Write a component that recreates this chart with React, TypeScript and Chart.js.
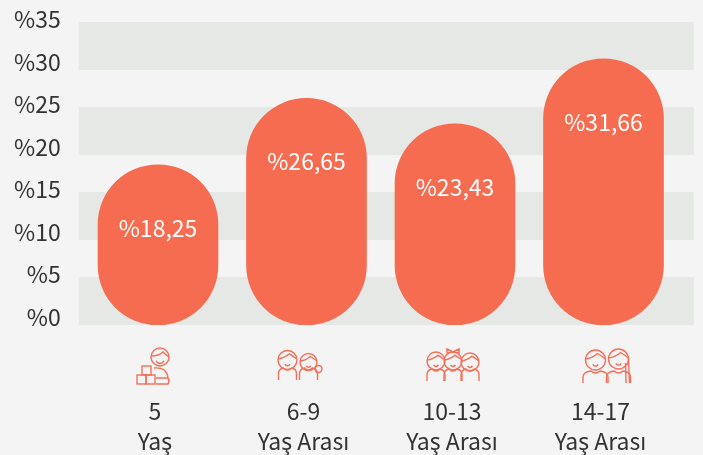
import React, { useEffect, useRef } from "react";
import { Chart, registerables } from "chart.js";

Chart.register(...registerables);

const categories = [["5", "Yaş"], ["6-9", "Yaş Arası"], ["10-13", "Yaş Arası"], ["14-17", "Yaş Arası"]];
const values = [18.25, 26.65, 23.43, 31.66];
const valueLabels = ["%18,25", "%26,65", "%23,43", "%31,66"];
const tickValues = [0, 5, 10, 15, 20, 25, 30, 35];
const bands = [[-0.94, 4.7], [9.06, 14.7], [19.06, 24.7], [29.06, 34.7]];

const FONT = '"Noto Sans CJK SC", "Noto Sans", sans-serif';
const TEXT = "#333333";
const CORAL = "#f56c50";
const ICON = "#f4705a";
const BG = "#f4f4f4";
const BAND = "#e6e8e6";
const ICON_SHIFT = [-5, -8, -2, 3];

type Ctx = CanvasRenderingContext2D;

function person(c: Ctx, x: number, y: number, r: number, bw: number, bottom: number) {
  c.beginPath();
  c.arc(x, y, r, 0, Math.PI * 2);
  c.stroke();
  c.beginPath();
  c.moveTo(x - r, y - 1);
  c.quadraticCurveTo(x - r * 0.3, y - r * 0.2, x + r * 0.2, y - r * 0.65);
  c.quadraticCurveTo(x + r * 0.6, y - r * 0.4, x + r, y - 1);
  c.stroke();
  c.beginPath();
  c.arc(x, y + r * 0.3, r * 0.3, 0.15 * Math.PI, 0.85 * Math.PI);
  c.stroke();
  c.beginPath();
  c.moveTo(x - bw, bottom);
  c.lineTo(x - bw, bottom - 6);
  c.quadraticCurveTo(x - bw, bottom - 11, x - r * 0.45, bottom - 12);
  c.quadraticCurveTo(x, bottom - 8, x + r * 0.45, bottom - 12);
  c.quadraticCurveTo(x + bw, bottom - 11, x + bw, bottom - 6);
  c.lineTo(x + bw, bottom);
  c.stroke();
}

const icons = [
  (c: Ctx, x: number, y: number) => {
    c.beginPath();
    c.arc(x + 7, y - 8, 9, 0, Math.PI * 2);
    c.stroke();
    c.beginPath();
    c.moveTo(x - 2, y - 9);
    c.quadraticCurveTo(x + 6, y - 9, x + 10, y - 13);
    c.quadraticCurveTo(x + 13, y - 10, x + 16, y - 8);
    c.moveTo(x + 3, y - 4);
    c.quadraticCurveTo(x + 7, y + 1, x + 11, y - 4);
    c.stroke();
    c.strokeRect(x - 16, y + 10, 9, 9);
    c.strokeRect(x - 7, y + 10, 9, 9);
    c.strokeRect(x - 11, y + 1, 9, 9);
    c.beginPath();
    c.moveTo(x + 1, y + 3);
    c.quadraticCurveTo(x + 14, y + 2, x + 15, y + 13);
    c.moveTo(x + 3, y + 19);
    c.lineTo(x + 15, y + 19);
    c.quadraticCurveTo(x + 17, y + 16, x + 15, y + 13);
    c.lineTo(x + 3, y + 13);
    c.stroke();
  },
  (c: Ctx, x: number, y: number) => {
    person(c, x - 11, y - 5, 9.5, 9, y + 15);
    person(c, x + 10, y - 3, 8.5, 9, y + 15);
    c.beginPath();
    c.arc(x + 20, y + 4, 3.5, 0, Math.PI * 2);
    c.stroke();
  },
  (c: Ctx, x: number, y: number) => {
    person(c, x - 17, y - 4, 9, 9, y + 16);
    person(c, x + 17, y - 3, 9, 9, y + 16);
    person(c, x, y - 4, 9, 9, y + 16);
    c.beginPath();
    c.moveTo(x, y - 13);
    c.lineTo(x - 6, y - 16);
    c.lineTo(x - 6, y - 12);
    c.closePath();
    c.moveTo(x, y - 13);
    c.lineTo(x + 6, y - 16);
    c.lineTo(x + 6, y - 12);
    c.closePath();
    c.stroke();
  },
  (c: Ctx, x: number, y: number) => {
    person(c, x - 11, y - 5, 10, 12.5, y + 18);
    person(c, x + 12, y - 6, 10, 12, y + 18);
    c.beginPath();
    c.moveTo(x + 22, y - 6);
    c.lineTo(x + 23, y + 18);
    c.moveTo(x + 19, y - 2);
    c.lineTo(x + 19.5, y + 18);
    c.stroke();
  },
];

const paint = {
  id: "paint",
  beforeDatasetsDraw(chart: Chart) {
    const { ctx, scales, chartArea } = chart;
    const yScale = scales.y;
    ctx.save();
    ctx.fillStyle = BAND;
    for (const [lo, hi] of bands) {
      const top = yScale.getPixelForValue(hi);
      const bottom = yScale.getPixelForValue(lo);
      ctx.fillRect(chartArea.left - 5, top, chartArea.width + 21, bottom - top);
    }
    ctx.restore();
  },
  afterDatasetsDraw(chart: Chart) {
    const { ctx, scales, chartArea } = chart;
    const meta = chart.getDatasetMeta(0);
    ctx.save();
    ctx.fillStyle = "#ffffff";
    ctx.font = `23px ${FONT}`;
    ctx.textAlign = "center";
    ctx.textBaseline = "middle";
    meta.data.forEach((bar: any, i: number) => {
      ctx.fillText(valueLabels[i], bar.x, bar.y + 63);
    });
    ctx.strokeStyle = ICON;
    ctx.lineWidth = 1.4;
    icons.forEach((draw, i) => {
      draw(ctx, scales.x.getPixelForTick(i) + ICON_SHIFT[i], chartArea.bottom + 40);
    });
    ctx.restore();
  },
};

export default function App() {
  const ref = useRef<HTMLCanvasElement>(null);
  useEffect(() => {
    document.body.style.margin = "0";
    document.body.style.background = BG;
    const chart = new Chart(ref.current!, {
      type: "bar",
      data: {
        labels: categories,
        datasets: [
          {
            data: values,
            base: -2.03,
            yAxisID: "y1",
            backgroundColor: CORAL,
            barThickness: 120,
            borderRadius: 60,
            borderSkipped: false,
          } as any,
        ],
      },
      options: {
        responsive: false,
        animation: false,
        layout: { padding: { top: 17, right: 25.25, left: 0, bottom: 0 } },
        plugins: { legend: { display: false }, tooltip: { enabled: false } },
        scales: {
          x: {
            grid: { display: false },
            border: { display: false },
            ticks: {
              padding: 63,
              labelOffset: -3,
              maxRotation: 0,
              autoSkip: false,
              color: TEXT,
              font: { family: FONT, size: 23, lineHeight: 30 / 23 },
            },
            afterFit: (s: any) => { s.height = 130; s.paddingLeft = 0; s.paddingRight = 0; },
          },
          y: {
            min: -0.94,
            max: 35.3,
            grid: { display: false },
            border: { display: false },
            afterBuildTicks: (s: any) => { s.ticks = tickValues.map((value) => ({ value })); },
            afterFit: (s: any) => { s.width = 83.75; s.paddingTop = 0; s.paddingBottom = 0; },
            ticks: {
              padding: 15,
              autoSkip: false,
              color: TEXT,
              font: { family: FONT, size: 23 },
              callback: (v: any) => `%${v}`,
            },
          },
          y1: { display: false, min: -2.03, max: 36.96 },
        },
      },
      plugins: [paint],
    } as any);
    return () => chart.destroy();
  }, []);
  return <canvas ref={ref} width={703} height={455} style={{ display: "block", background: BG }} />;
}
